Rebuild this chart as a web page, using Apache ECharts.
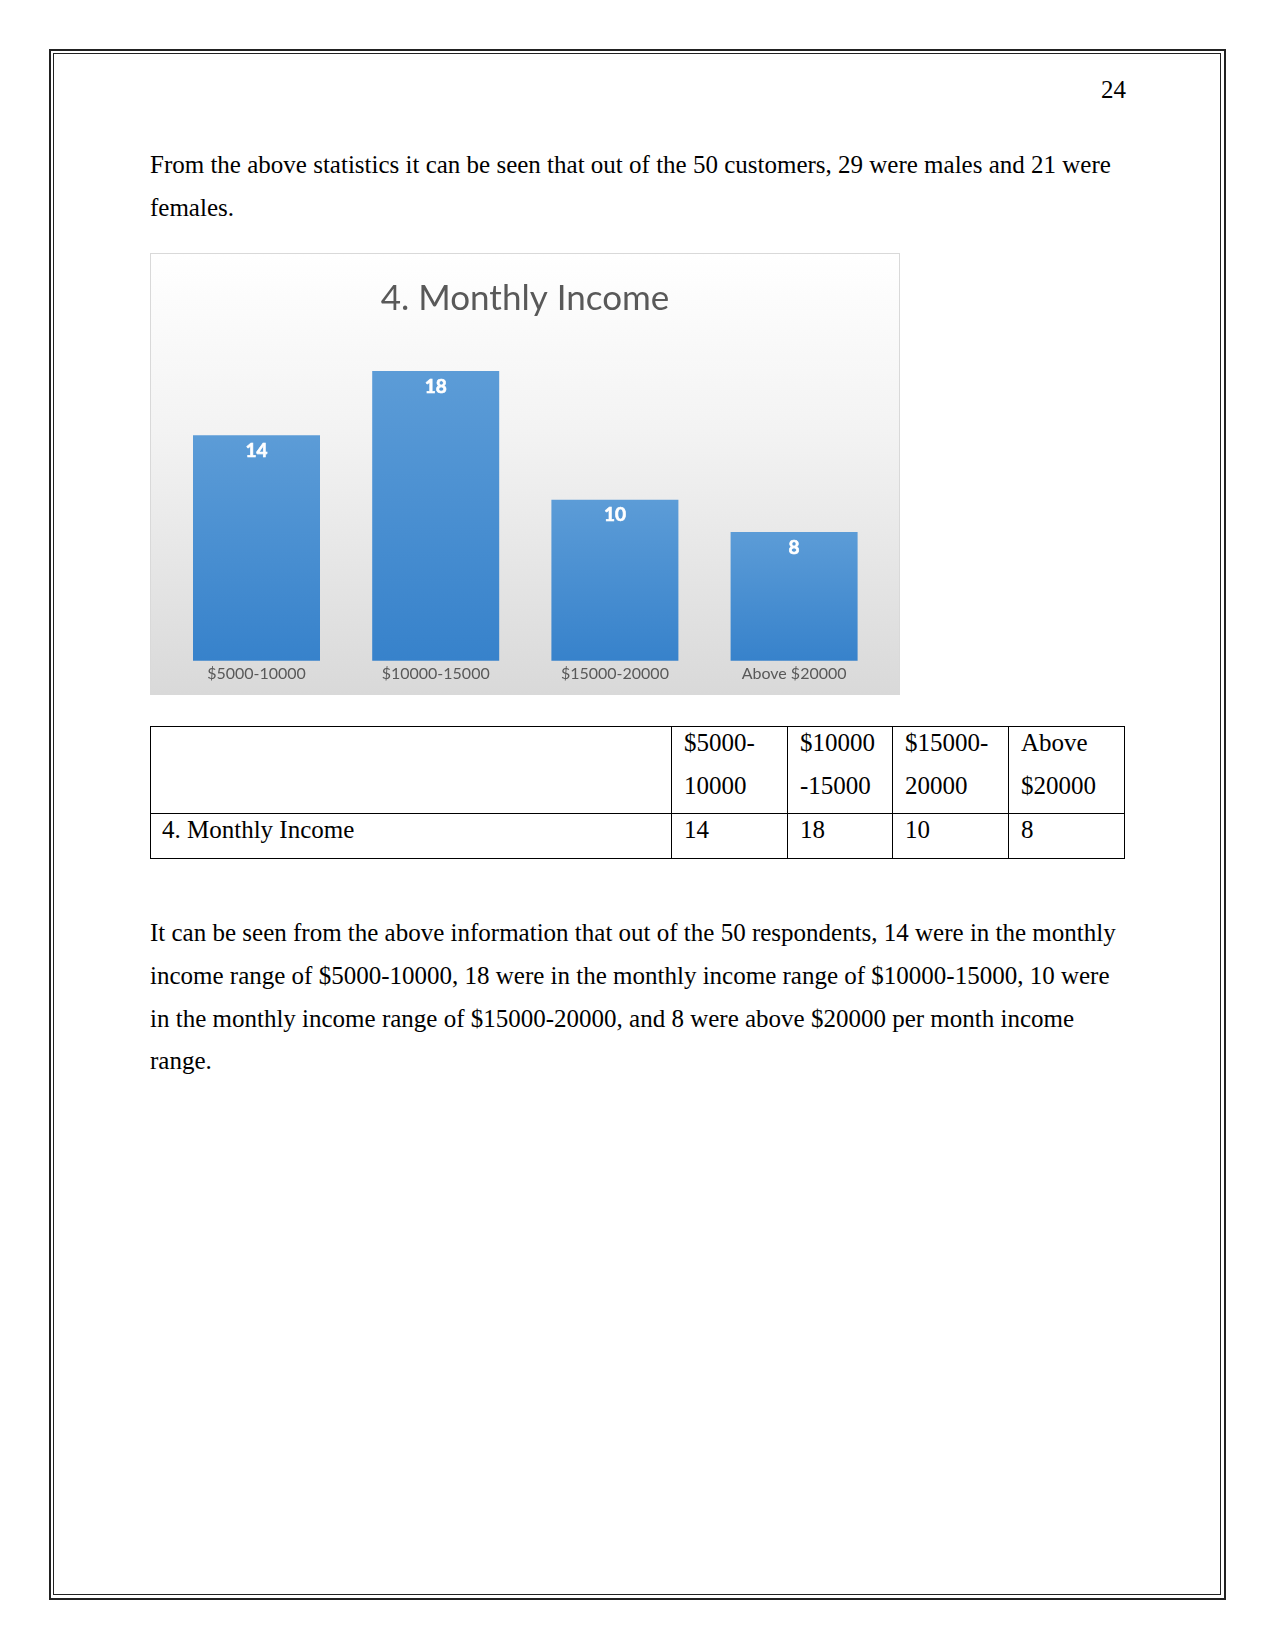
<!DOCTYPE html>
<html>
<head>
<meta charset="utf-8">
<script src="https://cdn.jsdelivr.net/npm/echarts@6/dist/echarts.min.js"></script>
<style>
  html, body { margin:0; padding:0; background:#fff; }
  body { width:1275px; height:1650px; position:relative; overflow:hidden; font-family:"Liberation Serif", "Times New Roman", serif; color:#000; }
  .abs { position:absolute; }
  .txt { font-size:25px; white-space:nowrap; line-height:42.8px; }
  .cell { position:absolute; font-size:25px; white-space:nowrap; line-height:43px; }
  .hl { position:absolute; background:#000; height:1px; }
  .vl { position:absolute; background:#000; width:1px; }
</style>
</head>
<body>
<div class="abs" style="left:49px;top:49px;width:1173px;height:1547px;border:2px solid #222;"></div>
<div class="abs" style="left:53px;top:53px;width:1166px;height:1540px;border:1px solid #222;"></div>

<div class="abs txt" style="right:149px;top:69px;">24</div>

<div class="abs txt" style="left:150px;top:144px;">From the above statistics it can be seen that out of the 50 customers, 29 were males and 21 were<br>females.</div>

<div class="abs" style="left:150px;top:253px;width:748px;height:440px;border:1px solid #d9d9d9;">
  <div id="chart" style="width:748px;height:440px;"></div>
</div>

<div id="table"></div>

<div class="abs txt" style="left:150px;top:912px;">It can be seen from the above information that out of the 50 respondents, 14 were in the monthly<br>income range of $5000-10000, 18 were in the monthly income range of $10000-15000, 10 were<br>in the monthly income range of $15000-20000, and 8 were above $20000 per month income<br>range.</div>

<script>
// ---- data ----
const categories = ['$5000-10000', '$10000-15000', '$15000-20000', 'Above $20000'];
const incomeCounts = [14, 18, 10, 8];
const chartTitle = '4. Monthly Income';
const tableHeaderLines = [['$5000-', '10000'], ['$10000', '-15000'], ['$15000-', '20000'], ['Above', '$20000']];
const tableRowLabel = '4. Monthly Income';

// ---- table ----
(function () {
  const t = document.getElementById('table');
  const colX = [150, 671, 787, 892, 1008, 1124];
  const rowY = [726, 813, 858];
  let html = '';
  rowY.forEach(y => { html += `<div class="hl" style="left:${colX[0]}px;top:${y}px;width:${colX[5]-colX[0]+1}px"></div>`; });
  colX.forEach(x => { html += `<div class="vl" style="left:${x}px;top:${rowY[0]}px;height:${rowY[2]-rowY[0]+1}px"></div>`; });
  tableHeaderLines.forEach((lines, i) => {
    html += `<div class="cell" style="left:${colX[i+1]+13}px;top:${rowY[0]-5}px;">${lines.join('<br>')}</div>`;
  });
  html += `<div class="cell" style="left:${colX[0]+12}px;top:${rowY[1]-5}px;">${tableRowLabel}</div>`;
  incomeCounts.forEach((v, i) => {
    html += `<div class="cell" style="left:${colX[i+1]+13}px;top:${rowY[1]-5}px;">${v}</div>`;
  });
  t.innerHTML = html;
})();

// ---- chart ----
const chart = echarts.init(document.getElementById('chart'), null, { renderer: 'canvas' });
chart.setOption({
  animation: false,
  backgroundColor: new echarts.graphic.LinearGradient(0, 0, 0, 1, [
    { offset: 0, color: '#ffffff' },
    { offset: 0.4, color: '#f3f3f3' },
    { offset: 1, color: '#d9d9d9' }
  ]),
  title: {
    text: chartTitle,
    left: 'center',
    top: 22,
    textStyle: { fontFamily: 'Lato', fontSize: 35, fontWeight: 'normal', color: '#595959' }
  },
  grid: { left: 15.9, right: 15.3, top: 84.7, bottom: 33.3 },
  xAxis: {
    type: 'category',
    data: categories,
    axisLine: { show: false },
    axisTick: { show: false },
    axisLabel: { color: '#595959', fontFamily: 'Lato', fontSize: 16, margin: 5 }
  },
  yAxis: { type: 'value', min: 0, max: 20, show: false, splitLine: { show: false } },
  series: [{
    type: 'bar',
    data: incomeCounts,
    barWidth: 127,
    itemStyle: {
      color: new echarts.graphic.LinearGradient(0, 0, 0, 1, [
        { offset: 0, color: '#5c9cd7' },
        { offset: 1, color: '#3782cb' }
      ])
    },
    label: {
      show: true,
      position: 'insideTop',
      distance: 6,
      color: '#ffffff',
      fontFamily: 'Lato',
      fontWeight: 'bold',
      fontSize: 19,
      textBorderColor: '#ffffff',
      textBorderWidth: 0.6
    }
  }]
});
</script>
</body>
</html>
